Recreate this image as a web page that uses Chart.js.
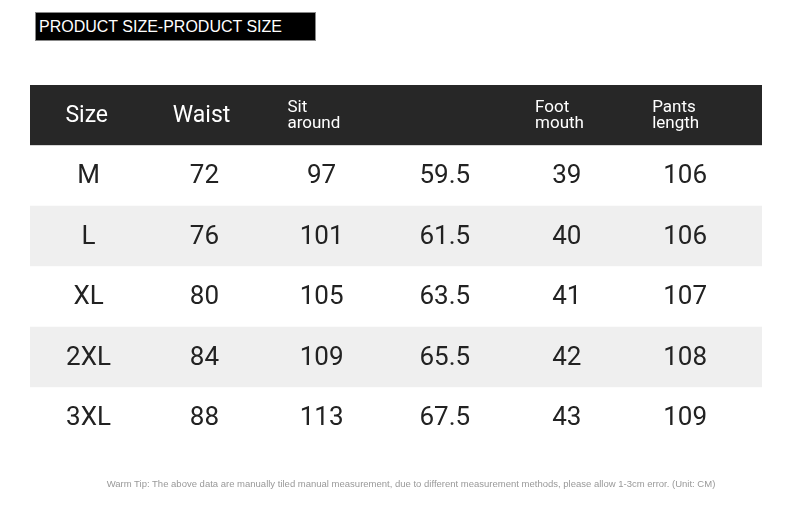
<!DOCTYPE html>
<html><head><meta charset="utf-8">
<script src="https://cdn.jsdelivr.net/npm/chart.js@4/dist/chart.umd.min.js"></script>
<style>
body{margin:0;background:#fff;}
#wrap{position:relative;width:790px;height:519px;}
#title{position:absolute;left:35px;top:12px;width:281px;height:29px;background:#000;border:1px solid #888;box-sizing:border-box;color:#fff;font:16px "Liberation Sans",Arial,sans-serif;line-height:27px;padding-left:3px;}
#tip{position:absolute;left:0;width:822px;top:478px;text-align:center;color:#999;font:9.5px "Liberation Sans",Arial,sans-serif;}
</style></head><body>
<div id="wrap">
<canvas id="c" width="790" height="519"></canvas>
<div id="title">PRODUCT SIZE-PRODUCT SIZE</div>
<div id="tip">Warm Tip: The above data are manually tiled manual measurement, due to different measurement methods, please allow 1-3cm error. (Unit: CM)</div>
</div>
<script>
const headers = [["Size"],["Waist"],["Sit","around"],[""],["Foot","mouth"],["Pants","length"]];
const sizes = ["M","L","XL","2XL","3XL"];
const waist = [72,76,80,84,88];
const sitAround = [97,101,105,109,113];
const col4 = [59.5,61.5,63.5,65.5,67.5];
const footMouth = [39,40,41,42,43];
const pantsLength = [106,106,107,108,109];
const rows = ["head", ...sizes];
const rowColors = ["#272727","#ffffff","#efefef","#ffffff","#efefef","#ffffff"];
const colCenters = [0.48,1.43,2.39,3.4,4.4,5.37];
const headerLeft = [0.29,1.17,2.11,3.1,4.14,5.1];

const tablePlugin = {
  id:'table',
  afterDatasetsDraw(chart){
    const ctx = chart.ctx, xs = chart.scales.x, ys = chart.scales.y;
    ctx.save();
    ctx.textBaseline='middle';
    ctx.fillStyle='#fff';
    headers.forEach((h,i)=>{
      const x = xs.getPixelForValue(headerLeft[i]);
      const y = ys.getPixelForValue(0);
      ctx.textAlign='left';
      if(h.length===1){ ctx.font='23px Roboto'; ctx.fillText(h[0],x,y+1); }
      else { ctx.font='17px Roboto'; ctx.fillText(h[0],x,y-8); ctx.fillText(h[1],x,y+8); }
    });
    const cols=[sizes,waist,sitAround,col4,footMouth,pantsLength];
    ctx.fillStyle='#222';
    ctx.font='26px Roboto';
    ctx.textAlign='center';
    sizes.forEach((s,r)=>{
      const y = ys.getPixelForValue(r+1);
      cols.forEach((c,i)=>ctx.fillText(String(c[r]),xs.getPixelForValue(colCenters[i]),y+1));
    });
    ctx.restore();
  }
};

new Chart(document.getElementById('c'),{
  type:'bar',
  data:{labels:rows,datasets:[{data:rows.map(()=>[0,6]),backgroundColor:rowColors,barPercentage:1,categoryPercentage:1,borderWidth:0}]},
  options:{
    indexAxis:'y',responsive:false,animation:false,
    layout:{padding:{left:30,right:28,top:85,bottom:71}},
    plugins:{legend:{display:false},tooltip:{enabled:false}},
    scales:{x:{type:'linear',min:0,max:6,display:false},y:{type:'category',display:false}}
  },
  plugins:[tablePlugin]
});
</script>
</body></html>
